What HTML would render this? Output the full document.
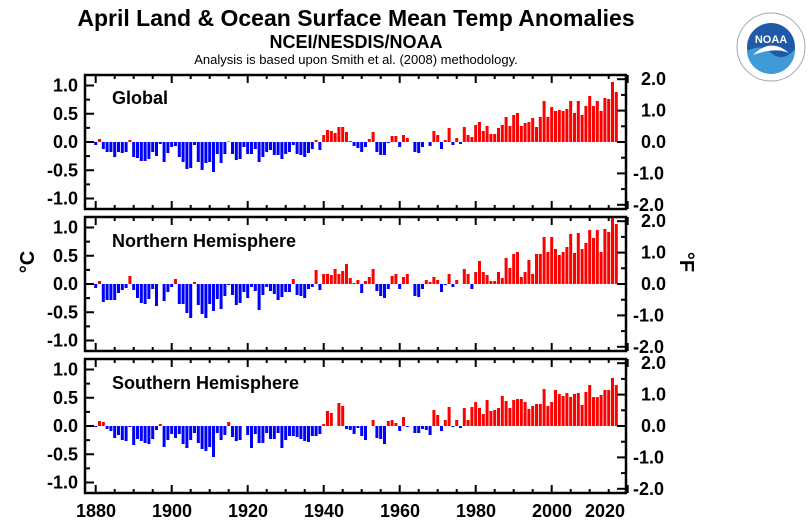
<!DOCTYPE html>
<html><head><meta charset="utf-8"><style>
html,body{margin:0;padding:0;background:#fff;}
svg{display:block;font-family:"Liberation Sans",sans-serif;}
</style></head><body>
<svg id="s" width="808" height="522" viewBox="0 0 808 522" xmlns="http://www.w3.org/2000/svg">
<rect width="808" height="522" fill="#fff"/>
<text x="356" y="26" font-size="23" font-weight="bold" text-anchor="middle">April Land &amp; Ocean Surface Mean Temp Anomalies</text>
<text x="356" y="48" font-size="18" font-weight="bold" text-anchor="middle">NCEI/NESDIS/NOAA</text>
<text x="356" y="64" font-size="13" text-anchor="middle">Analysis is based upon Smith et al. (2008) methodology.</text>
<text x="112" y="104" font-size="18" font-weight="bold">Global</text>
<text x="112" y="247" font-size="18" font-weight="bold">Northern Hemisphere</text>
<text x="112" y="389" font-size="18" font-weight="bold">Southern Hemisphere</text>
<text transform="translate(34,262) rotate(-90)" font-size="20" font-weight="bold" text-anchor="middle">°C</text>
<text transform="translate(680,262) rotate(90)" font-size="20" font-weight="bold" text-anchor="middle">°F</text>
<g font-size="18" font-weight="bold" text-anchor="middle">
<text x="96" y="517">1880</text><text x="172" y="517">1900</text><text x="248" y="517">1920</text><text x="324" y="517">1940</text><text x="400" y="517">1960</text><text x="476" y="517">1980</text><text x="552" y="517">2000</text><text x="605" y="517">2020</text>
</g>
<g id="labels" font-size="18" font-weight="bold"></g>
<g id="plot"></g>
<g transform="translate(771,47)">
<circle r="34" fill="#fff" stroke="#9ab" stroke-width="1"/>
<circle r="24" fill="#1e5aa8"/>
<path d="M-24,4 Q-10,-4 0,6 Q12,16 24,2 A24,24 0 0 1 -24,4Z" fill="#3f9ad8"/>
<path d="M-18,8 Q0,-10 18,6 Q4,0 -18,8Z" fill="#fff"/>
<text x="0" y="-4" font-size="11" font-weight="bold" fill="#fff" text-anchor="middle">NOAA</text>
</g>
</svg>
<script>
var G1=[-3,3,-7,-10,-10,-15,-10,-11,-10,2,-15,-16,-19,-19,-17,-10,-14,-2,-20,-11,-5,-4,-15,-20,-27,-26,-3,-20,-28,-21,-20,-30,-12,-21,-12,0.5,-12,-18,-17,-5,-12,-12,-7,-20,-15,-10,-8,-13,-13,-17,-12,-10,-3,-12,-13,-15,-11,-7,2,-8,7,12,11,9,15,15,10,1,-4,-6,
-10,-5,3,10,-10,-13,-13,-1,6,6,-5,7,4,0,-10,-11,-5,0,-4,11,7,-7,2,14,-3,4,-2,15,7,5,17,20,11,16,8,8,14,17,25,16,27,29,16,19,20,24,15,25,41,25,35,31,32,31,33,41,29,41,27,36,46,36,41,31,44,43,60,50];
var NH=[-4,3,-18,-16,-16,-16,-9,-6,-4,8,-6,-14,-19,-20,-15,-5,-22,0,-17,-8,-3,5,-20,-20,-29,-34,2,-21,-30,-34,-20,-27,-15,-25,-12,-1,-11,-21,-19,-8,-14,-3,-7,-26,-11,-3,-7,-10,-16,-13,-8,-8,5,-11,-12,-14,-5,-3,14,-6,10,10,9,15,10,13,20,6,1,
4,-9,3,7,15,-7,-12,-14,-5,8,10,-5,7,10,0,-12,-13,-5,4,2,7,4,-8,-1,10,-3,4,0,15,10,-5,12,23,12,9,3,3,12,6,26,16,30,32,7,12,24,10,30,30,47,32,47,35,29,32,37,50,31,51,35,41,54,46,54,32,55,52,68,60];
var SH=[-1,5,4,-3,-5,-12,-9,-14,-15,-1,-19,-13,-15,-17,-18,-13,-4,2,-21,-14,-8,-12,-8,-18,-22,-14,-7,-17,-23,-25,-21,-31,-7,-14,-9,4,-11,-15,-14,0,-9,-22,-8,-17,-17,-7,-13,-13,-7,-22,-14,-10,-10,-11,-13,-15,-16,-10,-10,-8,2,15,13,0,23,20,-3,-4,-8,
-2,-10,-14,0,6,-12,-13,-18,5,6,3,-5,9,-1,0,-7,-7,-3,-4,-9,16,11,-5,6,19,-1,6,-2,18,6,19,24,18,12,26,15,16,18,30,25,18,26,27,27,24,17,20,22,22,37,20,24,36,32,30,33,29,32,33,21,34,41,29,29,31,36,36,48,41];
var ns="http://www.w3.org/2000/svg",P=document.getElementById('plot'),L=document.getElementById('labels');
function el(t,a,p){var e=document.createElementNS(ns,t);for(var k in a)e.setAttribute(k,a[k]);(p||P).appendChild(e);return e;}
var L0=85,R0=626,tops=[75,217,359],data=[G1,NH,SH];
for(var p=0;p<3;p++){
 var T=tops[p],B=T+134,Z=T+67;
 data[p].forEach(function(v,i){var x=95.7+i*3.8-1.5;
  if(Math.abs(v)<0.2)return;
  el('rect',{x:x.toFixed(1),y:(v>0?Z-v:Z),width:3,height:Math.abs(v),fill:v>0?'#ff0000':'#0000ff'});});
 el('rect',{x:L0,y:T,width:R0-L0,height:B-T,fill:'none',stroke:'#000','stroke-width':2.5});
 for(var k=-4;k<=4;k++){var y=Z-k*14.125;var big=(k%2==0);
  el('line',{x1:L0,x2:L0+(big?9:5),y1:y,y2:y,stroke:'#000','stroke-width':2});}
 var cl=['1.0','0.5','0.0','-0.5','-1.0'];
 for(var k=0;k<5;k++){var t=el('text',{x:78,y:Z-(2-k)*28.25+6,'text-anchor':'end'},L);t.textContent=cl[k];}
 for(var k=-4;k<=4;k++){var y=Z-k*15.7;var big=(k%2==0);
  el('line',{x1:R0,x2:R0-(big?9:5),y1:y,y2:y,stroke:'#000','stroke-width':2});}
 var fl=['2.0','1.0','0.0','-1.0','-2.0'];
 for(var k=0;k<5;k++){var t=el('text',{x:(k>2?633:641),y:Z-(2-k)*31.4+6},L);t.textContent=fl[k];}
 for(var yr=1880;yr<=2020;yr+=5){var x=95.7+(yr-1880)*3.8;var big=(yr%20==0);var h=big?8:4;
  el('line',{x1:x,x2:x,y1:B,y2:B-h,stroke:'#000','stroke-width':2});
  el('line',{x1:x,x2:x,y1:T,y2:T+h,stroke:'#000','stroke-width':2});}
}
</script>
</body></html>
